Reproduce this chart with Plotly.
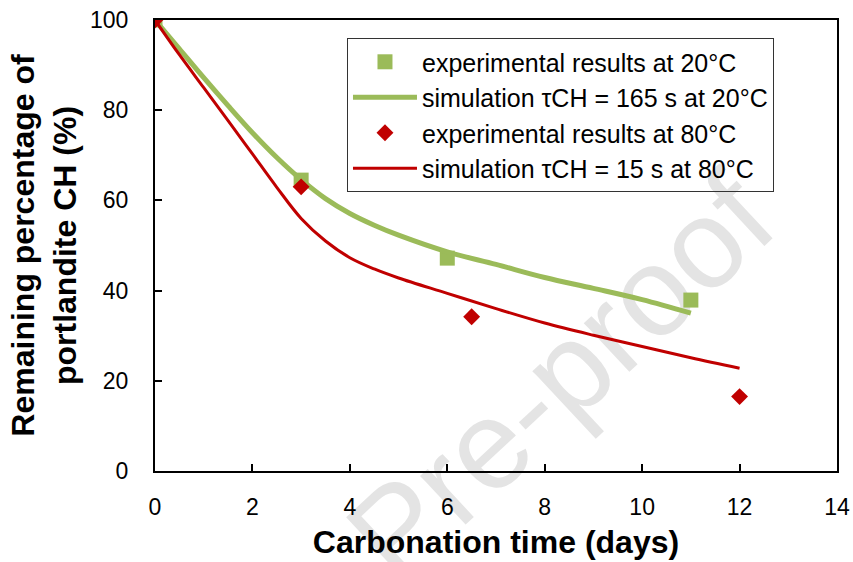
import plotly.graph_objects as go

# ---- data ----
exp20_days = [0, 3, 6, 11]
exp20_vals = [100, 64.5, 47.2, 37.9]
exp80_days = [0, 3, 6.5, 12]
exp80_vals = [100, 63.0, 34.2, 16.5]

sim20_days = [0, 0.5, 1, 1.5, 2, 2.5, 3, 3.5, 4, 4.5, 5, 6, 7, 8, 9, 10, 11]
sim20_vals = [100, 93.6, 87.2, 81.0, 75.0, 69.5, 64.6, 60.4, 57.1, 54.5, 52.3, 48.6, 45.8, 42.9, 40.5, 38.0, 35.0]
sim80_days = [0, 0.5, 1, 1.5, 2, 2.5, 3, 3.5, 4, 4.5, 5, 6, 7, 8, 9, 10, 11, 12]
sim80_vals = [100, 92.3, 85.0, 77.7, 70.3, 62.9, 56.0, 51.0, 47.3, 44.8, 42.8, 39.4, 36.0, 32.8, 30.1, 27.6, 25.1, 22.8]

x_ticks = [0, 2, 4, 6, 8, 10, 12, 14]
y_ticks = [0, 20, 40, 60, 80, 100]

GREEN = "#9BBB59"
RED = "#C00000"
FONT = "Arial, Liberation Sans, sans-serif"

fig = go.Figure()
fig.add_trace(go.Scatter(x=exp20_days, y=exp20_vals, mode="markers",
                         marker=dict(symbol="square", size=15, color=GREEN),
                         name="experimental results at 20°C"))
fig.add_trace(go.Scatter(x=sim20_days, y=sim20_vals, mode="lines",
                         line=dict(color=GREEN, width=5, shape="spline", smoothing=1),
                         name="simulation τCH = 165 s at 20°C"))
fig.add_trace(go.Scatter(x=exp80_days, y=exp80_vals, mode="markers",
                         marker=dict(symbol="diamond", size=13, color=RED),
                         name="experimental results at 80°C"))
fig.add_trace(go.Scatter(x=sim80_days, y=sim80_vals, mode="lines",
                         line=dict(color=RED, width=3, shape="spline", smoothing=1),
                         name="simulation τCH = 15 s at 80°C"))

# watermark behind the data
fig.add_shape(type="rect", xref="paper", yref="paper", x0=0.282, x1=0.882, y0=-0.422, y1=0.878,
              line=dict(width=0), fillcolor="rgba(0,0,0,0)", layer="below",
              label=dict(text="Pre-proof", textangle=-43, textposition="middle center",
                         font=dict(family=FONT, size=126, color="#e4e4e4")))

fig.update_layout(
    width=853, height=562,
    margin=dict(l=155, r=16, t=20, b=91, autoexpand=False),
    paper_bgcolor="white", plot_bgcolor="white",
    font=dict(family=FONT, color="black"),
    showlegend=True,
    legend=dict(x=0.2815, y=0.96, xanchor="left", yanchor="top",
                bordercolor="#333333", borderwidth=1, bgcolor="rgba(255,255,255,0)",
                font=dict(size=25, family=FONT), tracegroupgap=0, itemwidth=64),
)
fig.update_xaxes(range=[0, 14], tickvals=x_ticks, ticks="inside", ticklen=7, tickwidth=2,
                 tickcolor="black", showline=True, linecolor="black", linewidth=2,
                 mirror=True, showgrid=False, zeroline=False,
                 tickfont=dict(size=23), ticklabelstandoff=14,
                 title=dict(text="<b>Carbonation time (days)</b>", font=dict(size=32), standoff=12))
fig.update_yaxes(range=[0, 100], tickvals=y_ticks, ticks="inside", ticklen=7, tickwidth=2,
                 tickcolor="black", showline=True, linecolor="black", linewidth=2,
                 mirror=True, showgrid=False, zeroline=False,
                 tickfont=dict(size=23), ticklabelstandoff=20,
                 title=dict(text="<b>Remaining percentage of<br>portlandite CH (%)</b>",
                            font=dict(size=32), standoff=4))

fig.write_html("out.html")
